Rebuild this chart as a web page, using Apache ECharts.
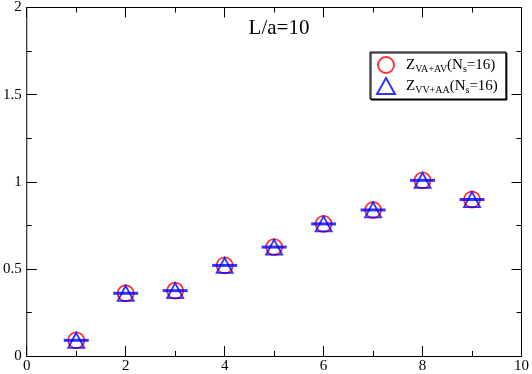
<!DOCTYPE html>
<html>
<head>
<meta charset="utf-8">
<script src="https://cdn.jsdelivr.net/npm/echarts@6/dist/echarts.min.js"></script>
<style>
  html, body { margin: 0; padding: 0; background: #fff; }
  #chart { width: 532px; height: 374px; }
</style>
</head>
<body>
<div id="chart"></div>
<script>
const xValues = [1, 2, 3, 4, 5, 6, 7, 8, 9];
const zVaAv = [0.09, 0.36, 0.375, 0.52, 0.625, 0.758, 0.838, 1.008, 0.898];
const zVvAa = [0.09, 0.36, 0.375, 0.52, 0.625, 0.758, 0.838, 1.008, 0.898];
const barValues = [0.09, 0.36, 0.375, 0.52, 0.625, 0.758, 0.838, 1.008, 0.898];

const font = '"Liberation Serif", "Times New Roman", serif';

function pairs(ys) {
    return xValues.map((x, i) => [x, ys[i]]);
}

const myChart = echarts.init(document.getElementById('chart'));

const baseX = {
    type: 'value',
    min: 0,
    max: 10,
    interval: 2,
    axisLine: { show: true, onZero: false, lineStyle: { color: '#000', width: 1 } },
    axisTick: { show: true, inside: true, length: 10, lineStyle: { color: '#000' } },
    minorTick: { show: true, splitNumber: 2, length: 5, lineStyle: { color: '#000' } },
    splitLine: { show: false }
};
const baseY = {
    type: 'value',
    min: 0,
    max: 2,
    interval: 0.5,
    axisLine: { show: true, onZero: false, lineStyle: { color: '#000', width: 1 } },
    axisTick: { show: true, inside: true, length: 10, lineStyle: { color: '#000' } },
    minorTick: { show: true, splitNumber: 2, length: 5, lineStyle: { color: '#000' } },
    splitLine: { show: false }
};

const option = {
    backgroundColor: '#fff',
    animation: false,
    textStyle: { fontFamily: font },
    title: {
        text: 'L/a=10',
        left: 274,
        top: 13,
        textAlign: 'center',
        textStyle: { fontFamily: font, fontSize: 21, fontWeight: 'normal', color: '#000' }
    },
    grid: { left: 23, right: 9, top: 6, bottom: 17 },
    legend: {
        orient: 'vertical',
        left: 370,
        top: 52,
        padding: [4, 8, 4, 6],
        itemGap: 3,
        itemWidth: 18,
        itemHeight: 16,
        backgroundColor: '#fff',
        borderColor: '#000',
        borderWidth: 1,
        borderRadius: 0,
        shadowColor: '#000',
        shadowBlur: 0,
        shadowOffsetX: 1,
        shadowOffsetY: 1,
        data: [
            { name: 'VA+AV', icon: 'circle', itemStyle: { color: 'transparent', borderColor: '#ff0000', borderWidth: 2 } },
            { name: 'VV+AA', icon: 'triangle', itemStyle: { color: 'transparent', borderColor: '#0000ff', borderWidth: 2 } }
        ],
        formatter: name => '{g| }{m|Z}{s|' + name + '}{m|(N}{s|s}{m|=16)}',
        textStyle: {
            fontFamily: font,
            color: '#000',
            rich: {
                g: { width: 6, lineHeight: 18 },
                m: { fontFamily: font, fontSize: 15, color: '#000', lineHeight: 18 },
                s: { fontFamily: font, fontSize: 10, color: '#000', lineHeight: 10, verticalAlign: 'bottom' }
            }
        }
    },
    xAxis: [
        Object.assign({}, baseX, {
            position: 'bottom',
            axisLabel: { show: true, fontFamily: font, fontSize: 15, color: '#000', margin: 3 }
        }),
        Object.assign({}, baseX, { position: 'top', axisLabel: { show: false } })
    ],
    yAxis: [
        Object.assign({}, baseY, {
            position: 'left',
            axisLabel: { show: true, fontFamily: font, fontSize: 15, color: '#000', margin: 5 }
        }),
        Object.assign({}, baseY, { position: 'right', axisLabel: { show: false } })
    ],
    series: [
        {
            name: 'VA+AV',
            type: 'scatter',
            data: pairs(zVaAv),
            symbol: 'circle',
            symbolSize: 16,
            itemStyle: { color: 'transparent', borderColor: '#ff0000', borderWidth: 1.8 },
            z: 2
        },
        {
            name: 'bar',
            type: 'scatter',
            data: pairs(barValues),
            symbol: 'rect',
            symbolSize: [25, 3],
            itemStyle: { color: '#0000ff' },
            z: 3
        },
        {
            name: 'VV+AA',
            type: 'scatter',
            data: pairs(zVvAa),
            symbol: 'triangle',
            symbolSize: [16, 15],
            itemStyle: { color: 'transparent', borderColor: '#0000ff', borderWidth: 1.8 },
            z: 4
        }
    ]
};

myChart.setOption(option);
</script>
</body>
</html>
